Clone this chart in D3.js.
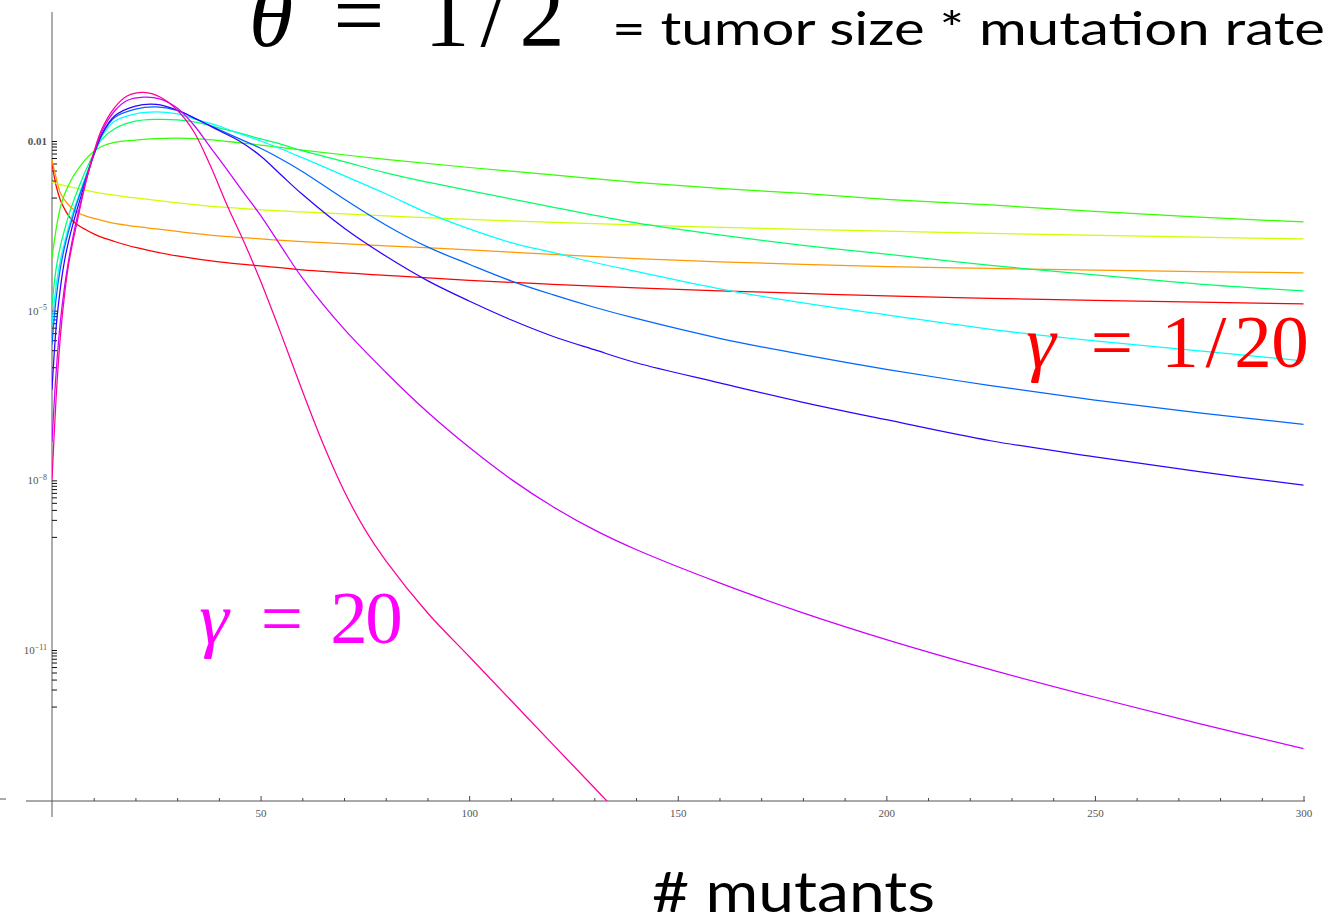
<!DOCTYPE html>
<html>
<head>
<meta charset="utf-8">
<script src="https://cdn.jsdelivr.net/npm/d3@7"></script>
<style>
  html, body { margin: 0; padding: 0; background: #fff; }
  svg { display: block; }
</style>
</head>
<body>
<svg id="chart" width="1331" height="922"></svg>
<script>
// ---- data: probability of k mutants, one curve per gamma (hue runs red -> pink) ----
const xRed    = [0,1,2,3,4,5,6,8,10,12,15,20,25,30,40,50,60,80,100,120,140,160,180,200,225,250,275,300];
const yRed    = [4.08e-3,1.60e-3,9.08e-4,6.30e-4,4.73e-4,3.86e-4,3.35e-4,2.73e-4,2.28e-4,1.97e-4,1.67e-4,1.31e-4,1.09e-4,9.29e-5,7.28e-5,6.19e-5,5.26e-5,4.21e-5,3.43e-5,2.92e-5,2.53e-5,2.24e-5,2.02e-5,1.82e-5,1.65e-5,1.52e-5,1.41e-5,1.32e-5];

const xOrange = [0,1,2,3,4,5,6,8,10,12,15,20,25,30,40,50,60,80,100,120,140,160,180,200,225,250,275,300];
const yOrange = [4.61e-3,2.22e-3,1.21e-3,9.08e-4,7.40e-4,6.30e-4,5.57e-4,4.73e-4,4.28e-4,3.94e-4,3.48e-4,3.08e-4,2.79e-4,2.52e-4,2.10e-4,1.86e-4,1.67e-4,1.40e-4,1.19e-4,9.90e-5,8.30e-5,7.28e-5,6.58e-5,5.98e-5,5.58e-5,5.20e-5,4.91e-5,4.66e-5];

const xYellow = [0,2,5,12,20,30,40,60,80,100,140,180,225,275,300];
const yYellow = [1.89e-3,1.69e-3,1.51e-3,1.18e-3,9.84e-4,8.09e-4,6.82e-4,5.57e-4,4.73e-4,4.10e-4,3.28e-4,2.73e-4,2.32e-4,1.99e-4,1.86e-4];

const xGreen  = [0,1,2,3,4,5,6,8,10,12,15,20,25,30,35,40,50,60,80,100,120,140,160,180,200,225,250,275,300];
const yGreen  = [8.57e-5,2.79e-4,6.68e-4,1.14e-3,1.67e-3,2.31e-3,3.00e-3,4.69e-3,6.52e-3,8.09e-3,9.48e-3,1.04e-2,1.10e-2,1.12e-2,1.09e-2,1.02e-2,8.49e-3,6.87e-3,4.75e-3,3.40e-3,2.53e-3,1.86e-3,1.45e-3,1.18e-3,9.33e-4,7.40e-4,5.68e-4,4.49e-4,3.71e-4];

const xSpring = [0,1,2,3,4,5,6,8,10,12,15,20,25,30,35,40,45,50,55,60,70,80,90,100,120,140,160,180,200,225,250,275,300];
const ySpring = [1.26e-5,5.58e-5,1.37e-4,2.68e-4,4.85e-4,8.04e-4,1.27e-3,2.92e-3,5.97e-3,1.08e-2,1.65e-2,2.24e-2,2.41e-2,2.37e-2,2.12e-2,1.70e-2,1.38e-2,1.09e-2,8.71e-3,6.76e-3,4.31e-3,2.73e-3,1.87e-3,1.33e-3,6.76e-4,3.56e-4,2.18e-4,1.43e-4,1.00e-4,6.31e-5,4.28e-5,2.95e-5,2.24e-5];

const xFine   = [0,1,2,3,4,5,6,8,10,12,15,20,25,30,35,40,45,50,55,60,70,80,90,100,110,120,130,140,160,180,200,225,250,275,300];
const yCyan   = [5.61e-6,2.74e-5,7.59e-5,1.58e-4,3.06e-4,5.35e-4,8.81e-4,2.29e-3,5.55e-3,1.22e-2,2.24e-2,3.03e-2,3.28e-2,3.03e-2,2.35e-2,1.84e-2,1.35e-2,1.00e-2,7.23e-3,5.07e-3,2.44e-3,1.17e-3,5.35e-4,2.79e-4,1.60e-4,1.07e-4,7.11e-5,4.94e-5,2.43e-5,1.37e-5,8.43e-6,4.68e-6,2.93e-6,1.95e-6,1.30e-6];
const yAzure  = [2.49e-6,1.68e-5,5.58e-5,1.31e-4,2.57e-4,4.63e-4,8.04e-4,2.13e-3,5.66e-3,1.29e-2,2.60e-2,3.67e-2,4.02e-2,3.46e-2,2.36e-2,1.59e-2,1.09e-2,7.43e-3,4.76e-3,2.89e-3,9.44e-4,3.28e-4,1.34e-4,6.61e-5,3.37e-5,1.92e-5,1.15e-5,7.28e-6,3.25e-6,1.67e-6,9.19e-7,4.73e-7,2.63e-7,1.56e-7,9.75e-8];
const yBlue   = [3.99e-7,5.18e-6,2.48e-5,7.59e-5,1.71e-4,3.35e-4,6.11e-4,1.91e-3,5.66e-3,1.35e-2,2.77e-2,4.15e-2,4.45e-2,3.53e-2,2.37e-2,1.53e-2,9.88e-3,5.43e-3,2.48e-3,1.14e-3,2.89e-4,9.23e-5,3.40e-5,1.48e-5,6.90e-6,3.53e-6,2.04e-6,1.20e-6,5.30e-7,2.40e-7,1.18e-7,5.01e-8,2.61e-8,1.42e-8,8.26e-9];

const xViolet = [0,1,2,3,4,5,6,8,10,12,15,18,22,26,30,34,38,42,46,50,55,60,70,80,90,100,110,120,130,140,160,180,200,225,250,275,300];
const yViolet = [4.81e-8,8.30e-7,6.34e-6,2.63e-5,7.91e-5,1.97e-4,4.37e-4,1.74e-3,5.89e-3,1.50e-2,3.39e-2,5.20e-2,5.98e-2,5.52e-2,3.83e-2,1.92e-2,7.67e-3,3.08e-3,1.21e-3,4.83e-4,1.34e-4,3.80e-5,4.75e-6,8.17e-7,1.61e-7,3.83e-8,1.05e-8,3.44e-9,1.33e-9,5.98e-10,1.54e-10,4.54e-11,1.53e-11,4.49e-12,1.46e-12,5.01e-13,1.81e-13];

const xPink   = [0,1,2,3,4,5,6,8,10,12,15,18,22,26,30,34,38,42,46,50,55,60,65,70,75,80,90,100,110,120,130,135];
const yPink   = [1.03e-8,3.00e-7,3.44e-6,1.90e-5,6.71e-5,1.67e-4,3.63e-4,1.77e-3,6.26e-3,1.66e-2,3.89e-2,6.24e-2,7.24e-2,5.94e-2,3.53e-2,1.46e-2,3.61e-3,7.24e-4,1.66e-4,3.34e-5,3.73e-6,3.83e-7,4.38e-8,6.55e-9,1.36e-9,3.81e-10,4.56e-11,7.67e-12,1.29e-12,2.17e-13,3.66e-14,1.51e-14];

// hue fraction of each curve, in drawing order
const hueSteps = [0, 0.1, 0.2, 0.3, 0.4, 0.5, 0.6, 0.7, 0.8, 0.9];

// axis ticks
const xMajorTicks = [50, 100, 150, 200, 250, 300];
const xMinorTicks = [10,20,30,40,60,70,80,90,110,120,130,140,160,170,180,190,210,220,230,240,260,270,280,290];
const yLabelExps  = [-2, -5, -8, -11];

// ---- fonts ----
const SERIF = '"Liberation Serif", "Times New Roman", serif';
const SANS  = '"Lato", "Open Sans", sans-serif';

// ---- layout ----
const svg = d3.select("#chart");
const x = d3.scaleLinear().domain([0, 300]).range([52, 1303.5]);
const y = d3.scaleLog().domain([1e-2, 1e-11]).range([141, 650]);
const axisY = 801;   // where the horizontal axis sits

const series = [
  [xRed, yRed], [xOrange, yOrange], [xYellow, yYellow], [xGreen, yGreen],
  [xSpring, ySpring], [xFine, yCyan], [xFine, yAzure], [xFine, yBlue],
  [xViolet, yViolet], [xPink, yPink]
].map(([xs, ys], i) => ({
  color: d3.hsl(hueSteps[i] * 360, 1, 0.5).formatHex(),
  points: xs.map((v, j) => [v, ys[j]])
}));

svg.append("defs").append("clipPath").attr("id", "plotClip")
  .append("rect").attr("x", 52).attr("y", 0).attr("width", 1253).attr("height", axisY);

// ---- axes ----
const axisG = svg.append("g");
axisG.append("line").attr("x1", 52).attr("x2", 52).attr("y1", 12).attr("y2", 817)
  .attr("stroke", "#8a8a8a").attr("stroke-width", 1.4);
axisG.append("line").attr("x1", 26).attr("x2", 1305).attr("y1", axisY).attr("y2", axisY)
  .attr("stroke", "#555").attr("stroke-width", 1.2);
axisG.append("line").attr("x1", 0).attr("x2", 6).attr("y1", 799).attr("y2", 799)
  .attr("stroke", "#555").attr("stroke-width", 1);

// x ticks (pointing up) with labels below
const xMajor = svg.append("g").attr("transform", `translate(0,${axisY})`)
  .call(d3.axisBottom(x).tickValues(xMajorTicks).tickSizeInner(-5).tickSizeOuter(0).tickPadding(8));
const xMinor = svg.append("g").attr("transform", `translate(0,${axisY})`)
  .call(d3.axisBottom(x).tickValues(xMinorTicks).tickSizeInner(-3).tickSizeOuter(0).tickFormat(""));
[xMajor, xMinor].forEach(g => {
  g.select(".domain").remove();
  g.selectAll(".tick line").attr("stroke", "#444").attr("stroke-width", 1);
});
xMajor.selectAll(".tick text")
  .style("font-family", SERIF).style("font-size", "11px").attr("fill", "#555");

// y ticks: each labelled decade gets a fan of minor ticks in the decade below it
const yMinorTicks = [];
yLabelExps.forEach(e => {
  for (let k = 1; k <= 10; k++) yMinorTicks.push(k * Math.pow(10, e - 1));
});
const yTicks = svg.append("g").attr("transform", "translate(52,0)")
  .call(d3.axisRight(y).tickValues(yMinorTicks).tickSizeInner(5).tickSizeOuter(0).tickFormat(""));
yTicks.select(".domain").remove();
yTicks.selectAll(".tick line").attr("stroke", "#111").attr("stroke-width", 1);

const yLabels = svg.append("g").attr("transform", "translate(52,0)")
  .call(d3.axisLeft(y).tickValues(yLabelExps.map(e => Math.pow(10, e))).tickSize(0).tickPadding(5));
yLabels.select(".domain").remove();
yLabels.selectAll(".tick text").each(function (d) {
  const t = d3.select(this).text(null)
    .style("font-family", SERIF).style("font-size", "11px")
    .attr("fill", "#555").attr("dy", "0.32em");
  const e = Math.round(Math.log10(d));
  if (e === -2) {
    t.style("font-weight", "bold").text("0.01");
  } else {
    t.append("tspan").text("10");
    t.append("tspan").style("font-size", "8px").attr("dy", "-0.55em").text("\u2212" + (-e));
  }
});

// ---- curves ----
const line = d3.line()
  .x(d => x(d[0]))
  .y(d => y(d[1]))
  .curve(d3.curveCatmullRom.alpha(0.5));

svg.append("g").attr("clip-path", "url(#plotClip)")
  .selectAll("path").data(series).join("path")
  .attr("d", d => line(d.points))
  .attr("fill", "none")
  .attr("stroke", d => d.color)
  .attr("stroke-width", 1.25);

// ---- text ----
function glyphs(parts, size, color) {
  const g = svg.append("g");
  parts.forEach(p => {
    g.append("text").attr("x", p.x).attr("y", p.y).attr("text-anchor", "middle")
      .style("font-family", SERIF).style("font-size", size + "px")
      .style("font-style", p.italic ? "italic" : "normal")
      .attr("fill", color).text(p.t);
  });
}

glyphs([
  { t: "\u03B8", x: 271, y: 46, italic: true },
  { t: "=", x: 359, y: 46 },
  { t: "1", x: 447, y: 46 },
  { t: "/", x: 493, y: 46 },
  { t: "2", x: 542, y: 46 }
], 90, "#000");

svg.append("text").attr("x", 612).attr("y", 45)
  .style("font-family", SANS).style("font-size", "46px").attr("fill", "#000")
  .attr("textLength", 713).attr("lengthAdjust", "spacingAndGlyphs")
  .text("= tumor size * mutation rate");

svg.append("text").attr("x", 652).attr("y", 912)
  .style("font-family", SANS).style("font-size", "56px").attr("fill", "#000")
  .attr("textLength", 283).attr("lengthAdjust", "spacingAndGlyphs")
  .text("# mutants");

// gamma labels
glyphs([
  { t: "\u03B3", x: 1041, y: 367, italic: true },
  { t: "=", x: 1112, y: 367 },
  { t: "1", x: 1180, y: 367 },
  { t: "/", x: 1216, y: 367 },
  { t: "2", x: 1253, y: 367 },
  { t: "0", x: 1290, y: 367 }
], 75, "#ff0000");
glyphs([
  { t: "\u03B3", x: 214, y: 643, italic: true },
  { t: "=", x: 282, y: 643 },
  { t: "2", x: 349, y: 643 },
  { t: "0", x: 384, y: 643 }
], 75, "#ff00ff");
</script>
</body>
</html>
